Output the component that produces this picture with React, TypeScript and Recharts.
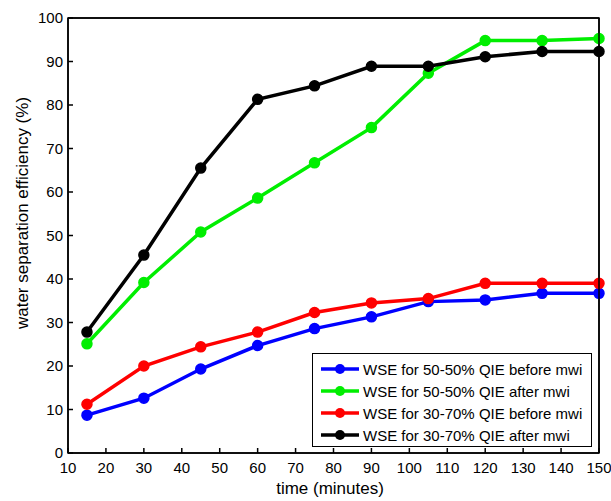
import React from "react";
import { Line, LineChart, XAxis, YAxis } from "recharts";

const times = [15, 30, 45, 60, 75, 90, 105, 120, 135, 150];
const wse5050Before = [8.7, 12.6, 19.3, 24.7, 28.6, 31.3, 34.8, 35.2, 36.7, 36.7];
const wse5050After = [25.1, 39.2, 50.8, 58.6, 66.7, 74.8, 87.3, 94.8, 94.8, 95.3];
const wse3070Before = [11.2, 20.0, 24.4, 27.8, 32.3, 34.5, 35.5, 39.0, 39.0, 39.0];
const wse3070After = [27.8, 45.5, 65.5, 81.3, 84.4, 88.9, 88.9, 91.1, 92.3, 92.3];

const xTicks = [10, 20, 30, 40, 50, 60, 70, 80, 90, 100, 110, 120, 130, 140, 150];
const yTicks = [0, 10, 20, 30, 40, 50, 60, 70, 80, 90, 100];

const series = [
  { key: "s1", name: "WSE for 50-50% QIE before mwi", color: "#0000ff", values: wse5050Before },
  { key: "s2", name: "WSE for 50-50% QIE after mwi", color: "#00ee00", values: wse5050After },
  { key: "s3", name: "WSE for 30-70% QIE before mwi", color: "#ff0000", values: wse3070Before },
  { key: "s4", name: "WSE for 30-70% QIE after mwi", color: "#000000", values: wse3070After },
];

const data = times.map((t, i) => {
  const row: Record<string, number> = { t };
  series.forEach((s) => {
    row[s.key] = s.values[i];
  });
  return row;
});

const FONT = "'Liberation Sans', Arial, sans-serif";
const tickStyle = { fill: "#000", fontSize: 15, fontFamily: FONT };

// legend drawn as an overlay so it doesn't eat plot space
function LegendBox() {
  return (
    <div
      style={{
        position: "absolute",
        left: 312,
        top: 353,
        width: 280,
        height: 94,
        border: "1.5px solid #000",
        background: "#fff",
        padding: "4px 0 0 0",
        fontFamily: FONT,
        fontSize: 15,
        color: "#000",
        boxSizing: "border-box",
      }}
    >
      {series.map((s) => (
        <div key={s.key} style={{ display: "flex", alignItems: "center", height: 22 }}>
          <svg width={50} height={22}>
            <line x1={8} x2={46} y1={11} y2={11} stroke={s.color} strokeWidth={3.5} />
            <circle cx={27} cy={11} r={5} fill={s.color} />
          </svg>
          <span>{s.name}</span>
        </div>
      ))}
    </div>
  );
}

export default function App() {
  return (
    <div style={{ position: "absolute", left: 0, top: 0, width: 611, height: 501, background: "#fff" }}>
      <LineChart
        width={611}
        height={501}
        data={data}
        margin={{ top: 16, right: 10, bottom: 0, left: 0 }}
      >
        <XAxis
          xAxisId="bottom"
          dataKey="t"
          type="number"
          domain={[10, 150]}
          ticks={xTicks}
          interval={0}
          height={48}
          tickSize={-5}
          tickMargin={14}
          tick={tickStyle}
          stroke="#000"
          strokeWidth={1.5}
        />
        <XAxis
          xAxisId="top"
          orientation="top"
          dataKey="t"
          type="number"
          domain={[10, 150]}
          ticks={xTicks}
          interval={0}
          height={2}
          tickSize={-5}
          tick={false}
          stroke="#000"
          strokeWidth={1.5}
        />
        <YAxis
          yAxisId="left"
          type="number"
          domain={[0, 100]}
          ticks={yTicks}
          interval={0}
          width={68}
          tickSize={-5}
          tickMargin={10}
          tick={tickStyle}
          stroke="#000"
          strokeWidth={1.5}
        />
        <YAxis
          yAxisId="right"
          orientation="right"
          domain={[0, 100]}
          ticks={yTicks}
          width={2}
          tickSize={-5}
          tick={false}
          stroke="#000"
          strokeWidth={1.5}
        />
        {/* invisible series so the top/right box axes get drawn */}
        <Line
          xAxisId="top"
          yAxisId="right"
          dataKey="s1"
          stroke="none"
          dot={false}
          isAnimationActive={false}
        />
        {series.map((s) => (
          <Line
            key={s.key}
            xAxisId="bottom"
            yAxisId="left"
            dataKey={s.key}
            name={s.name}
            stroke={s.color}
            strokeWidth={3.5}
            dot={{ r: 5, fill: s.color, stroke: s.color, strokeWidth: 1.5 }}
            isAnimationActive={false}
          />
        ))}
      </LineChart>
      <LegendBox />
      <svg
        width={611}
        height={501}
        style={{ position: "absolute", left: 0, top: 0, pointerEvents: "none" }}
      >
        {/* axes box frame */}
        <rect x={68} y={18} width={531} height={435} fill="none" stroke="#000" strokeWidth={1.5} />
        <text x={330} y={494} textAnchor="middle" fontSize={17} fontFamily={FONT} fill="#000">
          time (minutes)
        </text>
        <text
          x={28}
          y={213}
          textAnchor="middle"
          fontSize={17}
          fontFamily={FONT}
          fill="#000"
          transform="rotate(-90 28 213)"
        >
          water separation efficiency (%)
        </text>
      </svg>
    </div>
  );
}
